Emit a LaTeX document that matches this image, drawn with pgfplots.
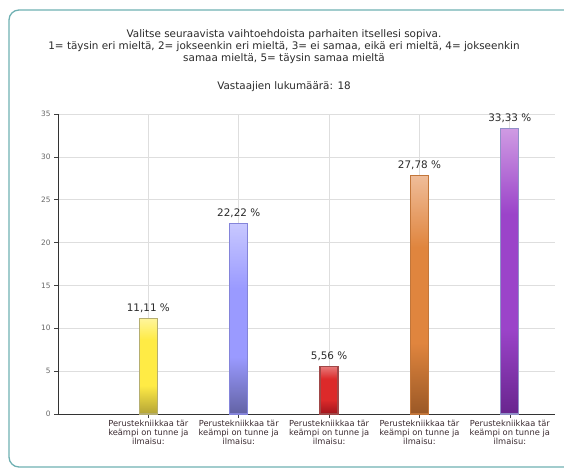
\documentclass[border=0pt]{standalone}
\usepackage{pgfplots}
\pgfplotsset{compat=1.18}
\usepackage{fontspec}
\setmainfont{DejaVu Sans}

\definecolor{frame}{HTML}{6FB0B2}
\definecolor{gridc}{HTML}{DEDEDE}
\definecolor{txt}{HTML}{2A2A2A}
\definecolor{xlab}{HTML}{3A2A30}

% bar colours: top / middle / bottom / border
\definecolor{yt}{HTML}{FFF59A}\definecolor{ym}{HTML}{FFEB45}\definecolor{yb}{HTML}{B3A336}\definecolor{yd}{HTML}{B5AE70}
\definecolor{bt}{HTML}{C8C8FF}\definecolor{bm}{HTML}{9A9AFF}\definecolor{bb}{HTML}{6262A4}\definecolor{bd}{HTML}{8484DA}
\definecolor{rt}{HTML}{E77A7A}\definecolor{rm}{HTML}{DC2A2A}\definecolor{rb}{HTML}{A0141C}\definecolor{rd}{HTML}{A04848}
\definecolor{ot}{HTML}{EFBC98}\definecolor{om}{HTML}{E0853E}\definecolor{ob}{HTML}{9A5826}\definecolor{od}{HTML}{C2763A}
\definecolor{pt}{HTML}{CF9BE3}\definecolor{pm}{HTML}{9B44C9}\definecolor{pb}{HTML}{68258E}\definecolor{pd}{HTML}{9090C8}

\pgfdeclareverticalshading{shy}{100bp}{color(0bp)=(yb); color(25bp)=(yb); color(40bp)=(ym); color(64bp)=(ym); color(75bp)=(yt); color(100bp)=(yt)}
\pgfdeclareverticalshading{shb}{100bp}{color(0bp)=(bb); color(25bp)=(bb); color(40bp)=(bm); color(58bp)=(bm); color(75bp)=(bt); color(100bp)=(bt)}
\pgfdeclareverticalshading{shr}{100bp}{color(0bp)=(rb); color(25bp)=(rb); color(40bp)=(rm); color(62bp)=(rm); color(75bp)=(rt); color(100bp)=(rt)}
\pgfdeclareverticalshading{sho}{100bp}{color(0bp)=(ob); color(25bp)=(ob); color(40bp)=(om); color(60bp)=(om); color(75bp)=(ot); color(100bp)=(ot)}
\pgfdeclareverticalshading{shp}{100bp}{color(0bp)=(pb); color(25bp)=(pb); color(40bp)=(pm); color(60bp)=(pm); color(75bp)=(pt); color(100bp)=(pt)}

\newcommand{\lbl}{Perustekniikkaa tär\\keämpi on tunne ja\\ilmaisu:}

\begin{document}
\begin{tikzpicture}
\useasboundingbox (0,0) rectangle (564pt,469pt);
% teal panel frame, runs off the right edge
\draw[frame, line width=1.3pt, rounded corners=10pt]
  (580pt,459pt) -- (9pt,459pt) -- (9pt,2pt) -- (580pt,2pt);

\begin{scope}[font=\fontsize{10.4}{12}\selectfont, text=txt]
\node at (284pt,434pt) {Valitse seuraavista vaihtoehdoista parhaiten itsellesi sopiva.};
\node at (284pt,422pt) {1= täysin eri mieltä, 2= jokseenkin eri mieltä, 3= ei samaa, eikä eri mieltä, 4= jokseenkin};
\node at (284pt,410pt) {samaa mieltä, 5= täysin samaa mieltä};
\node at (284pt,382pt) {Vastaajien lukumäärä: 18};
\end{scope}

\begin{axis}[
  at={(58pt,55pt)}, anchor=south west,
  scale only axis, width=497pt, height=300pt,
  xmin=0, xmax=5.5, ymin=0, ymax=35,
  axis x line*=bottom, axis y line*=left,
  axis line style={draw=black!80, line width=0.8pt, -},
  xtick={1,2,3,4,5}, xticklabels={\lbl,\lbl,\lbl,\lbl,\lbl},
  ytick={0,5,...,35},
  grid=major, major grid style={gridc, line width=0.7pt},
  tick align=outside, major tick length=4pt,
  tick style={black!75, line width=0.6pt},
  xticklabel style={font=\fontsize{8.3}{9.3}\selectfont, align=center, text=xlab, inner sep=1.5pt},
  yticklabel style={font=\fontsize{7.4}{8}\selectfont, text=black!60},
  /pgf/number format/assume math mode=true,
  nodes near coords, point meta=explicit symbolic,
  every node near coord/.style={font=\fontsize{10.4}{11}\selectfont, text=txt, yshift=2pt},
  clip=false,
]
\addplot[ybar, bar width=18pt, draw=yd, line width=1.2pt, shading=shy, shade]
  coordinates {(1,11.11) [11,11 \%]};
\addplot[ybar, bar width=18pt, draw=bd, line width=1.2pt, shading=shb, shade]
  coordinates {(2,22.22) [22,22 \%]};
\addplot[ybar, bar width=18pt, draw=rd, line width=1.2pt, shading=shr, shade]
  coordinates {(3,5.56) [5,56 \%]};
\addplot[ybar, bar width=18pt, draw=od, line width=1.2pt, shading=sho, shade]
  coordinates {(4,27.78) [27,78 \%]};
\addplot[ybar, bar width=18pt, draw=pd, line width=1.2pt, shading=shp, shade]
  coordinates {(5,33.33) [33,33 \%]};
\end{axis}
\end{tikzpicture}
\end{document}
